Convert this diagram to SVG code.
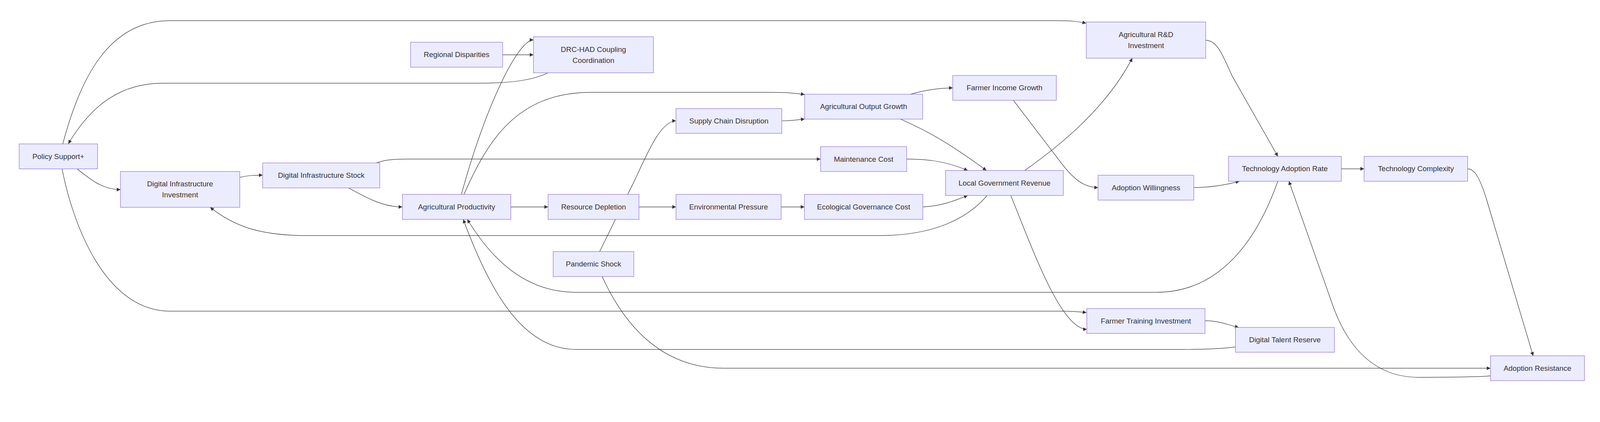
<svg xmlns="http://www.w3.org/2000/svg" width="4331" height="1080" viewBox="0 0 4331 1080" preserveAspectRatio="xMinYMin meet" style="width:100%;height:100%">
<defs>
<marker id="arrow" viewBox="0 0 10 10" refX="10" refY="5" markerUnits="userSpaceOnUse" markerWidth="11" markerHeight="10" orient="auto">
<path d="M0,0 L10,5 L0,10 z" fill="#333333"/>
</marker>
<style>
.node rect{fill:#ECECFF;stroke:#9370DB;stroke-width:1.3}
.node text{font-family:"Liberation Sans",Arial,sans-serif;font-size:20px;fill:#333333;text-anchor:middle;dominant-baseline:central}
.edge{fill:none;stroke:#333333;stroke-width:1.3;marker-end:url(#arrow)}
</style>
</defs>
<rect width="4331" height="1080" fill="#ffffff"/>
<g id="connectors">
<path class="edge" d="M170,389 C215,220 290,56 460,56 L2860,56 C2900,56 2920,58 2940,63"/>
<path class="edge" d="M1484,197 C1440,218 1380,225 1297,225 L442,225 C330,225 250,280 185,389"/>
<path class="edge" d="M209,457 C250,490 280,513 326,513"/>
<path class="edge" d="M168,457 C200,620 290,842 460,842 L2880,842 C2910,842 2925,844 2941,846"/>
<path class="edge" d="M649,480 C675,474 690,474 711,474"/>
<path class="edge" d="M943,508 C1000,540 1040,560 1089,560"/>
<path class="edge" d="M1019,441 C1040,433 1060,430.5 1100,430.5 L2221,430.5"/>
<path class="edge" d="M1249,526 C1310,300 1400,108 1444,108"/>
<path class="edge" d="M1256,526 C1320,380 1400,250 1600,250 L2090,250 C2130,250 2155,252 2178,256"/>
<path class="edge" d="M1361,148.4 L1444,148.4"/>
<path class="edge" d="M1383,560 L1483.6,560"/>
<path class="edge" d="M1729.5,560 L1829.8,560"/>
<path class="edge" d="M2114.4,560 L2177.5,560"/>
<path class="edge" d="M1623,681 L1712,500 C1745,433 1785,327 1829.8,327"/>
<path class="edge" d="M1630,748 C1690,880 1790,996.5 1960,996.5 L4034.5,996.5"/>
<path class="edge" d="M2116,327 C2145,327 2160,324 2178,322"/>
<path class="edge" d="M2465,255 C2500,245 2540,238 2579,238"/>
<path class="edge" d="M2437,322 C2500,350 2560,380 2670,461.4"/>
<path class="edge" d="M2454,430.6 C2520,430 2570,440 2619.5,461.4"/>
<path class="edge" d="M2498,560 C2545,558 2580,545 2619.5,529"/>
<path class="edge" d="M2672,529 C2620,590 2530,637.5 2380,637.5 L830,637.5 C700,637.5 630,610 569,561"/>
<path class="edge" d="M2774,461.4 C2860,400 2990,300 3065,157.4"/>
<path class="edge" d="M2736,529 C2790,660 2870,891 2942,891"/>
<path class="edge" d="M2743,271.3 L2868,435 C2900,478 2930,507.6 2972.3,507.6"/>
<path class="edge" d="M3231.5,507.6 C3280,507 3320,500 3355,490.4"/>
<path class="edge" d="M3264,109 C3295,109 3310,150 3335,205 L3459,423.2"/>
<path class="edge" d="M3630.7,456.8 L3692.4,456.8"/>
<path class="edge" d="M3973,457 C3990,457 4005,478 4024,540 L4150,962.9"/>
<path class="edge" d="M3459,490.4 C3420,600 3330,791 3130,791 L1560,791 C1420,791 1330,700 1265,593.7"/>
<path class="edge" d="M3344.3,939 C3300,944 3250,945.6 3200,945.6 L1560,945.6 C1420,945.6 1330,800 1254,593.7"/>
<path class="edge" d="M3262,868 C3300,868 3320,878 3353,886"/>
<path class="edge" d="M4034.5,1017 C4000,1021 3900,1021 3840,1021 C3720,1021 3650,940 3610,833 L3489,490.4"/>
</g>
<g id="policy" class="node"><rect x="52" y="389.5" width="212" height="67.5"/><text x="158" y="423.3">Policy Support+</text></g>
<g id="dii" class="node"><rect x="326" y="464" width="323" height="97"/><text x="487.5" y="497.5">Digital Infrastructure</text><text x="487.5" y="527.5">Investment</text></g>
<g id="dis" class="node"><rect x="711" y="441" width="317" height="67.5"/><text x="869.5" y="474.7">Digital Infrastructure Stock</text></g>
<g id="regional" class="node"><rect x="1111.5" y="114.3" width="249" height="67.5"/><text x="1236" y="148">Regional Disparities</text></g>
<g id="drc" class="node"><rect x="1444" y="99.5" width="324.6" height="97.5"/><text x="1606.3" y="133.5">DRC-HAD Coupling</text><text x="1606.3" y="163.5">Coordination</text></g>
<g id="ap" class="node"><rect x="1089.4" y="526" width="293.3" height="67.7"/><text x="1236" y="560">Agricultural Productivity</text></g>
<g id="rd" class="node"><rect x="1483.6" y="526" width="246" height="67.7"/><text x="1606.6" y="560">Resource Depletion</text></g>
<g id="ep" class="node"><rect x="1829.8" y="526" width="284.6" height="67.7"/><text x="1972.1" y="560">Environmental Pressure</text></g>
<g id="egc" class="node"><rect x="2177.5" y="526" width="320.5" height="67.7"/><text x="2337.75" y="560">Ecological Governance Cost</text></g>
<g id="pandemic" class="node"><rect x="1497.4" y="680.8" width="218.2" height="67.5"/><text x="1606.5" y="714.5">Pandemic Shock</text></g>
<g id="scd" class="node"><rect x="1829.8" y="293.7" width="286.4" height="67.2"/><text x="1973" y="327.3">Supply Chain Disruption</text></g>
<g id="aog" class="node"><rect x="2178" y="255" width="319.5" height="67.3"/><text x="2337.75" y="288.6">Agricultural Output Growth</text></g>
<g id="fig" class="node"><rect x="2579" y="204.2" width="280.4" height="67.1"/><text x="2719.2" y="237.7">Farmer Income Growth</text></g>
<g id="mc" class="node"><rect x="2221.2" y="397" width="233" height="67.2"/><text x="2337.7" y="430.6">Maintenance Cost</text></g>
<g id="lgr" class="node"><rect x="2559.6" y="461.4" width="318.7" height="67.6"/><text x="2719" y="495.2">Local Government Revenue</text></g>
<g id="rnd" class="node"><rect x="2940.5" y="59.6" width="323.2" height="97.8"/><text x="3102" y="93.5">Agricultural R&amp;D</text><text x="3102" y="123.5">Investment</text></g>
<g id="aw" class="node"><rect x="2972.3" y="474.2" width="259.2" height="67.3"/><text x="3102" y="507.8">Adoption Willingness</text></g>
<g id="tar" class="node"><rect x="3325.4" y="423.2" width="305.3" height="67.2"/><text x="3478" y="456.8">Technology Adoption Rate</text></g>
<g id="tc" class="node"><rect x="3692.4" y="423.2" width="280.4" height="67.2"/><text x="3832.6" y="456.8">Technology Complexity</text></g>
<g id="fti" class="node"><rect x="2941.9" y="835" width="319.9" height="67.3"/><text x="3101.8" y="868.6">Farmer Training Investment</text></g>
<g id="dtr" class="node"><rect x="3344.3" y="886" width="267.7" height="67.2"/><text x="3478" y="919.6">Digital Talent Reserve</text></g>
<g id="ar" class="node"><rect x="4034.5" y="962.9" width="254.5" height="67.1"/><text x="4161.7" y="996.5">Adoption Resistance</text></g>
</svg>
